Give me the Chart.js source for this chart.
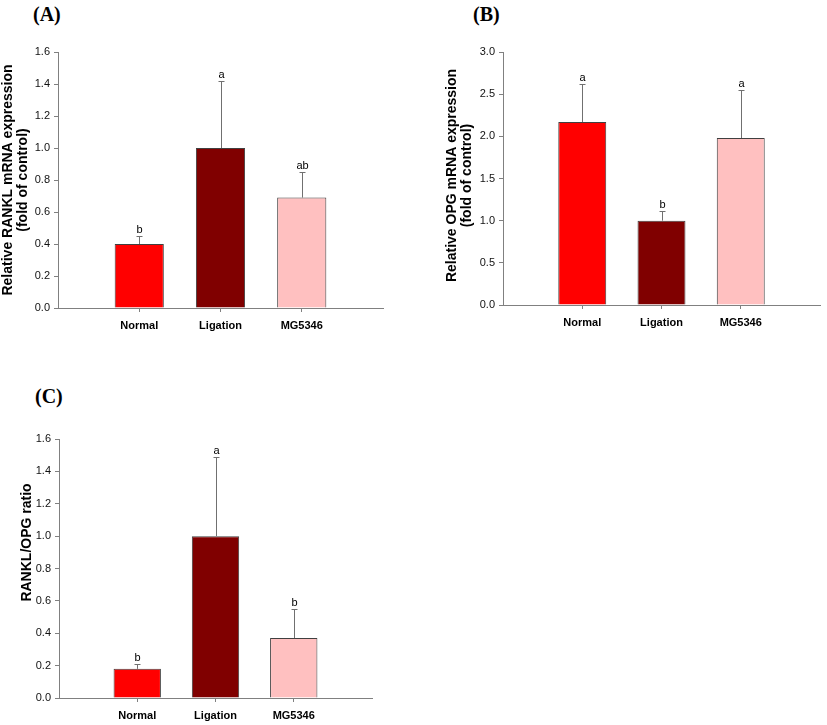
<!DOCTYPE html>
<html>
<head>
<meta charset="utf-8">
<script src="https://cdn.jsdelivr.net/npm/chart.js@4.4.1/dist/chart.umd.min.js"></script>
<style>
  html, body { margin: 0; padding: 0; background: #fff; }
  body { width: 827px; height: 725px; position: relative; overflow: hidden; }
  canvas { position: absolute; }
  .plabel { position: absolute; font-family: "Liberation Serif", "Times New Roman", serif; font-weight: bold; font-size: 20px; line-height: 20px; color: #000; }
</style>
</head>
<body>
<div class="plabel" style="left:33px; top:4px;">(A)</div>
<div class="plabel" style="left:473px; top:4px;">(B)</div>
<div class="plabel" style="left:35px; top:386px;">(C)</div>
<canvas id="cA" width="400" height="340" style="left:0px; top:0px;"></canvas>
<canvas id="cB" width="407" height="340" style="left:420px; top:0px;"></canvas>
<canvas id="cC" width="400" height="355" style="left:0px; top:370px;"></canvas>
<script>
// ---- data ----
const categories = ['Normal', 'Ligation', 'MG5346'];
const barColors = ['#FF0000', '#800000', '#FFC0C0'];

const ranklValues = [0.40, 1.00, 0.69];
const ranklErrors = [0.05, 0.42, 0.16];
const ranklLetters = ['b', 'a', 'ab'];

const opgValues = [2.17, 1.00, 1.98];
const opgErrors = [0.45, 0.11, 0.57];
const opgLetters = ['a', 'b', 'a'];

const ratioValues = [0.18, 1.00, 0.37];
const ratioErrors = [0.03, 0.49, 0.18];
const ratioLetters = ['b', 'a', 'b'];

const ranklTicks = { max: 1.6, step: 0.2 };
const opgTicks = { max: 3.0, step: 0.5 };
const ratioTicks = { max: 1.6, step: 0.2 };

// ---- helpers ----
const SANS = '"Liberation Sans", Arial, sans-serif';
const AXIS = '#808080';

const errPlugin = {
  id: 'errbars',
  afterDatasetsDraw(chart, args, opts) {
    const ctx = chart.ctx;
    const meta = chart.getDatasetMeta(0);
    const ys = chart.scales.y;
    const data = chart.data.datasets[0].data;
    ctx.save();
    data.forEach((v, i) => {
      if (v == null) return;
      const bar = meta.data[i];
      const x = Math.round(bar.x) + 0.5;
      const yTop = ys.getPixelForValue(v);
      const yErr = ys.getPixelForValue(v + opts.errors[i - 1]);
      ctx.strokeStyle = '#707070';
      ctx.lineWidth = 1;
      ctx.beginPath();
      ctx.moveTo(x, yTop);
      ctx.lineTo(x, Math.round(yErr) + 0.5);
      ctx.moveTo(x - 3, Math.round(yErr) + 0.5);
      ctx.lineTo(x + 3, Math.round(yErr) + 0.5);
      ctx.stroke();
      ctx.fillStyle = '#000';
      ctx.font = '11px ' + SANS;
      ctx.textAlign = 'center';
      ctx.textBaseline = 'bottom';
      ctx.fillText(opts.letters[i - 1], x, Math.round(yErr) - 0.5);
    });
    ctx.restore();
  }
};

const yTitlePlugin = {
  id: 'ytitle',
  afterDraw(chart, args, opts) {
    const ctx = chart.ctx;
    const a = chart.chartArea;
    ctx.save();
    ctx.font = 'bold 14px ' + SANS;
    ctx.fillStyle = '#000';
    ctx.textAlign = 'center';
    ctx.textBaseline = 'middle';
    opts.lines.forEach((t, k) => {
      ctx.save();
      ctx.translate(opts.x[k], (a.top + a.bottom) / 2 + (opts.dy || 0));
      ctx.rotate(-Math.PI / 2);
      ctx.fillText(t, 0, 0);
      ctx.restore();
    });
    ctx.restore();
  }
};

function makeChart(id, values, errors, letters, ticks, geom, title) {
  const labels = [''].concat(categories, ['']);
  const data = [null].concat(values, [null]);
  const colors = ['rgba(0,0,0,0)'].concat(barColors, ['rgba(0,0,0,0)']);
  return new Chart(document.getElementById(id), {
    type: 'bar',
    data: {
      labels: labels,
      datasets: [{
        data: data,
        backgroundColor: colors,
        borderColor: '#404040',
        borderWidth: 1,
        barPercentage: 0.605,
        categoryPercentage: 1.0
      }]
    },
    options: {
      responsive: false,
      animation: false,
      devicePixelRatio: 1,
      layout: { padding: { left: 0, top: geom.top, right: geom.right, bottom: 0 } },
      plugins: {
        legend: { display: false },
        tooltip: { enabled: false },
        errbars: { errors: errors, letters: letters },
        ytitle: title
      },
      scales: {
        x: {
          offset: false,
          afterFit(s) { s.height = geom.xh; },
          grid: {
            offset: false,
            drawOnChartArea: false,
            drawTicks: true,
            tickLength: 4,
            color: (c) => (c.index === 0 || c.index === 4) ? 'rgba(0,0,0,0)' : AXIS
          },
          border: { display: true, color: AXIS, width: 1 },
          ticks: {
            color: '#000',
            padding: 7,
            maxRotation: 0,
            autoSkip: false,
            font: { family: SANS, size: 11, weight: 'bold' }
          }
        },
        y: {
          min: 0,
          max: ticks.max,
          afterFit(s) { s.width = geom.yw; },
          grid: { drawOnChartArea: false, drawTicks: true, tickLength: 4, color: AXIS },
          border: { display: true, color: AXIS, width: 1 },
          ticks: {
            stepSize: ticks.step,
            color: '#111',
            padding: 4,
            font: { family: SANS, size: 11 },
            callback: (v) => Number(v).toFixed(1)
          }
        }
      }
    },
    plugins: [errPlugin, yTitlePlugin]
  });
}

makeChart('cA', ranklValues, ranklErrors, ranklLetters, ranklTicks,
  { top: 52, right: 17, xh: 32, yw: 58 },
  { lines: ['Relative RANKL mRNA expression', '(fold of control)'], x: [8.5, 23], dy: 0 });

makeChart('cB', opgValues, opgErrors, opgLetters, opgTicks,
  { top: 52, right: 2, xh: 35, yw: 83 },
  { lines: ['Relative OPG mRNA expression', '(fold of control)'], x: [32.5, 47], dy: -3 });

makeChart('cC', ratioValues, ratioErrors, ratioLetters, ratioTicks,
  { top: 69, right: 28, xh: 27, yw: 59 },
  { lines: ['RANKL/OPG ratio'], x: [27.5], dy: -26 });
</script>
</body>
</html>
